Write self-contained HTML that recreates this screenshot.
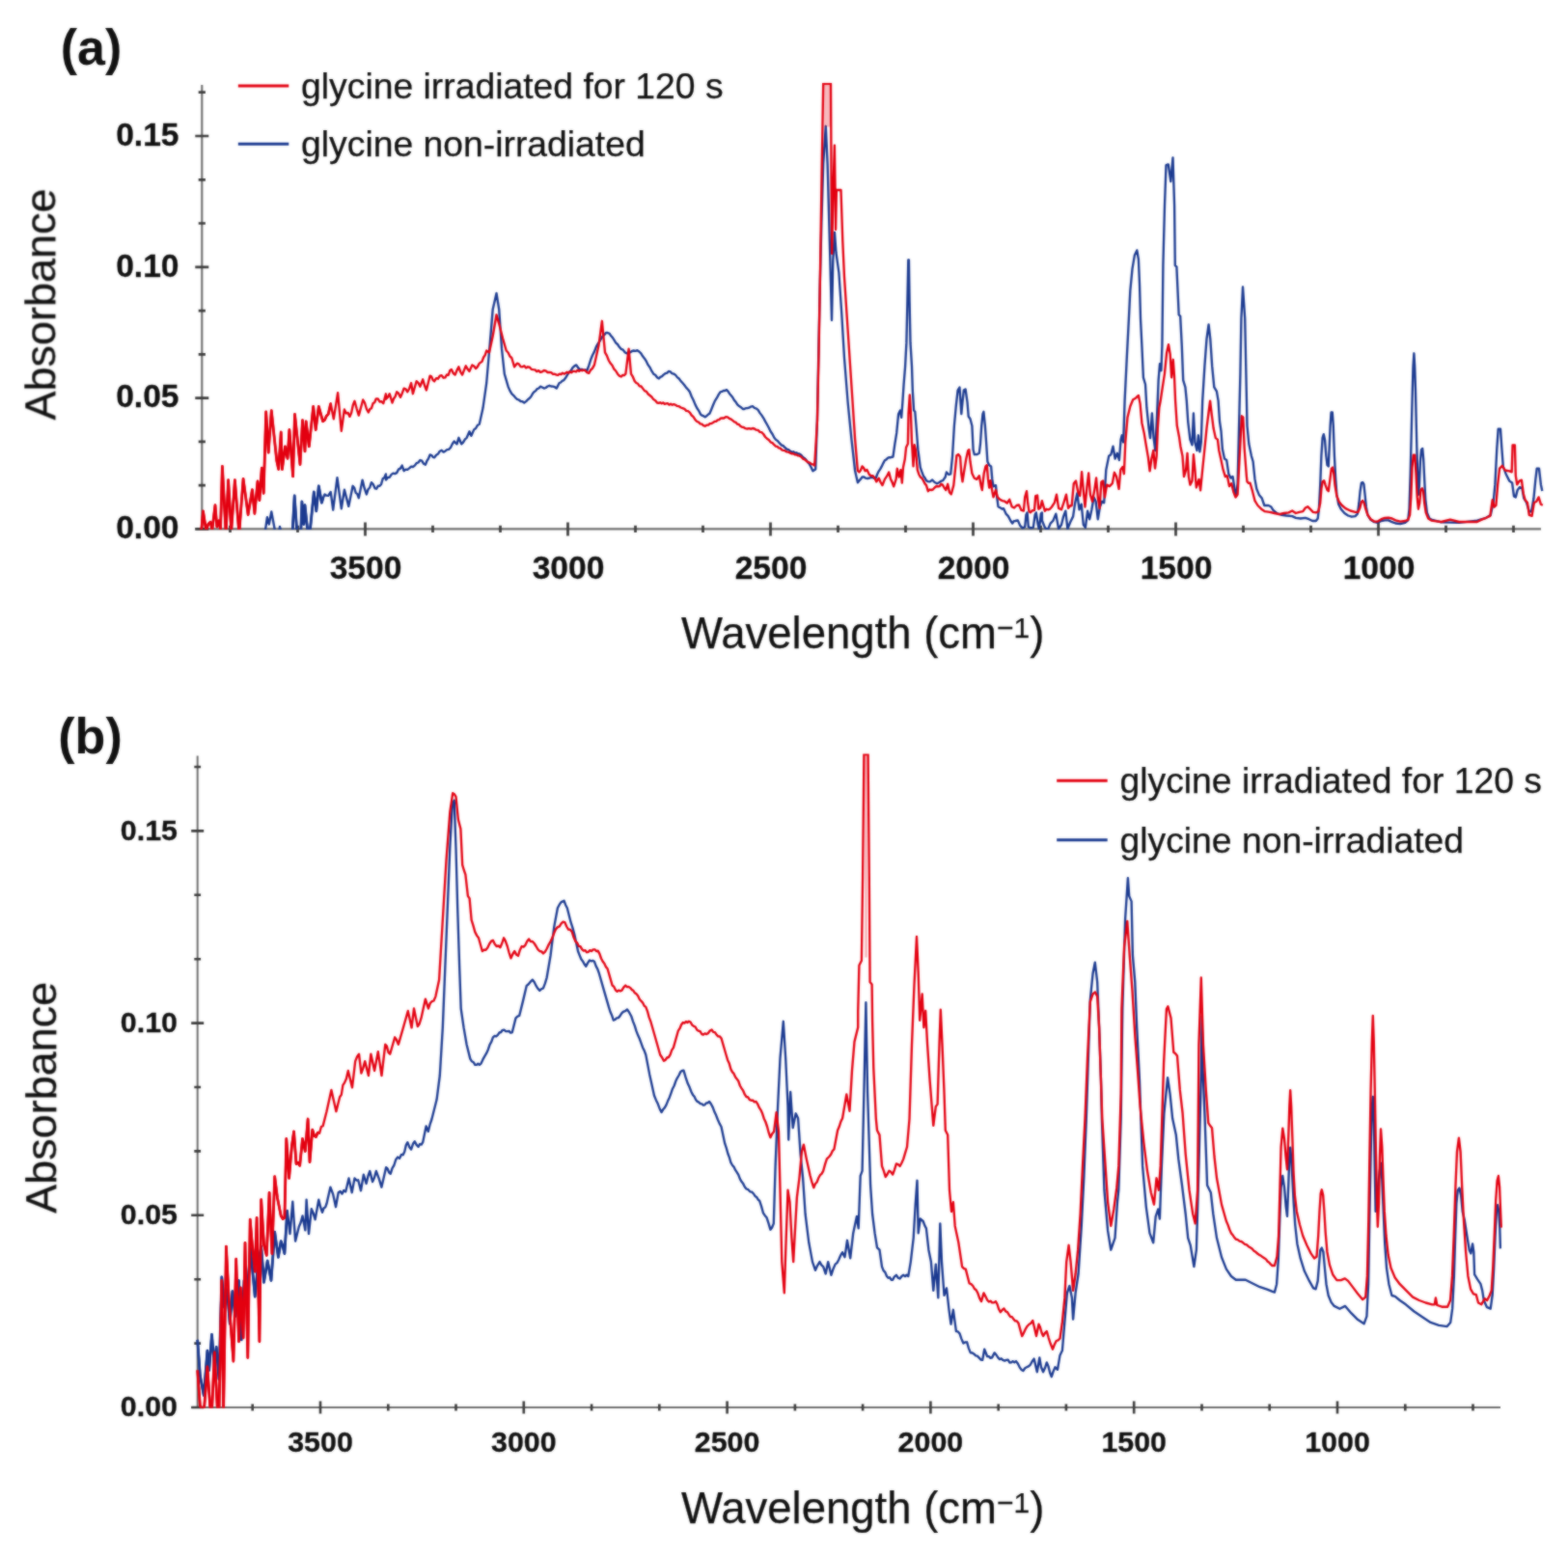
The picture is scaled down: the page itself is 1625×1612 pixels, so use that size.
<!DOCTYPE html>
<html lang="en">
<head>
<meta charset="utf-8">
<title>FTIR absorbance spectra of glycine</title>
<style>
html,body{margin:0;padding:0;background:#fff;}
body{width:1625px;height:1612px;overflow:hidden;}
svg{display:block;font-family:"Liberation Sans",sans-serif;}
</style>
</head>
<body>
<svg width="1625" height="1612" viewBox="0 0 1625 1612">
<defs><filter id="soft" x="0" y="0" width="1625" height="1612" filterUnits="userSpaceOnUse" color-interpolation-filters="sRGB"><feGaussianBlur in="SourceGraphic" stdDeviation="0.85" result="b"/><feComposite in="b" in2="SourceGraphic" operator="arithmetic" k1="0" k2="0.6" k3="0.40" k4="0"/></filter></defs>
<rect width="1625" height="1612" fill="#fff"/>
<g filter="url(#soft)">
<g id="panel-a">
<g stroke="#6e6e6e" stroke-width="2.1" fill="none" shape-rendering="auto">
<path d="M209.3 88V548.4"/>
<path d="M202.3 548.4H1597"/>
</g>
<path d="M202.3 548.4H216.3M205.7 503.1H212.9M205.7 457.9H212.9M202.3 412.6H216.3M205.7 367.3H212.9M205.7 322.1H212.9M202.3 276.8H216.3M205.7 231.5H212.9M205.7 186.3H212.9M202.3 141H216.3M205.7 95.7H212.9M238.5 544.8V552M308.5 544.8V552M378.5 541.4V555.4M448.5 544.8V552M518.5 544.8V552M588.5 541.4V555.4M658.5 544.8V552M728.5 544.8V552M798.5 541.4V555.4M868.5 544.8V552M938.5 544.8V552M1008.5 541.4V555.4M1078.5 544.8V552M1148.5 544.8V552M1218.5 541.4V555.4M1288.5 544.8V552M1358.5 544.8V552M1428.5 541.4V555.4M1498.5 544.8V552M1568.5 544.8V552" stroke="#3a3a3a" stroke-width="2.7" fill="none"/>
<g font-weight="bold" font-size="33.6" fill="#101010" stroke="#101010" stroke-width="0.3">
<text x="185.5" y="558.1" text-anchor="end">0.00</text>
<text x="185.5" y="422.3" text-anchor="end">0.05</text>
<text x="185.5" y="286.5" text-anchor="end">0.10</text>
<text x="185.5" y="150.7" text-anchor="end">0.15</text>
<text x="379" y="599.6" text-anchor="middle">3500</text>
<text x="589" y="599.6" text-anchor="middle">3000</text>
<text x="799" y="599.6" text-anchor="middle">2500</text>
<text x="1009" y="599.6" text-anchor="middle">2000</text>
<text x="1219" y="599.6" text-anchor="middle">1500</text>
<text x="1429" y="599.6" text-anchor="middle">1000</text>
</g>
<text x="894.2" y="672" font-size="45.5" text-anchor="middle" fill="#101010" stroke="#101010" stroke-width="0.25">Wavelength (cm<tspan font-size="30" dy="-11">−1</tspan><tspan dy="11">)</tspan></text>
<text transform="translate(57.3 315.5) rotate(-90)" font-size="45.0" text-anchor="middle" fill="#101010" stroke="#101010" stroke-width="0.25">Absorbance</text>
<text x="62.8" y="67" font-size="52" font-weight="bold" fill="#111">(a)</text>
<path d="M246.8 88.9h52.5" stroke="#e30010" stroke-width="3" fill="none"/>
<path d="M246.8 149.2h52.5" stroke="#1b3a90" stroke-width="3" fill="none"/>
<g font-size="37.3" fill="#101010" stroke="#101010" stroke-width="0.25">
<text x="312.1" y="101.9">glycine irradiated for 120 s</text>
<text x="312.1" y="162.2">glycine non-irradiated</text>
</g>
<clipPath id="clipa"><rect x="207.3" y="86" width="1395.7" height="463.0"/></clipPath>
<g clip-path="url(#clipa)" fill="none" stroke-width="2.35" stroke-linejoin="round" stroke-linecap="butt">
<path stroke="#1b3a90" stroke-width="2.75" d="M301.4 552.3L303 553.5L305.2 513.8L307.9 553.5L309.8 554.7L311.7 553.5L312.9 520L314.8 543.5L316 523.7L319.1 553.5L321 553.5L325.3 510L327.8 529.9L330.3 503.8L333.4 521.2L334.9 516.2"/>
<path stroke="#1b3a90" d="M274.4 553.5L276.9 536.1L278.8 543.5L281.3 530.5L285.6 553.5L287.2 552.2L288.7 553.5L290 546L291.8 553.5L293.4 554.4L295 552.2L296.6 554.4L298.2 552.8L299.8 554.6L301.4 552.3L303 553.5L305.2 513.8L307.9 553.5L309.8 554.7L311.7 553.5L312.9 520L314.8 543.5L316 523.7L319.1 553.5L321 553.5L325.3 510L327.8 529.9L330.3 503.8L333.4 521.2L334.9 516.2L336.5 512.5L338.3 513.7L340.2 513.8L342.7 510L345.2 528.7L349.5 495.2L353.8 527.4L356.9 507.6L361.3 524.9L365.6 503.8L367.2 505.7L368.7 510.9L370.3 512.1L371.8 516.3L375.6 497.6L377.7 506.2L379.9 512.5L381.6 507.2L383.2 505.5L384.9 500.1L386.7 502L388.6 506.3L390.2 506.7L391.9 503.6L393.5 503.8L395.1 501.9L396.7 496.3L398.3 495.1L399.9 491.4L400 497.5L401.9 495L403.7 494.8L405.6 491.9L407.4 490.6L409.3 491.1L411.2 490.1L413 486.6L414.9 485.6L416.7 482.6L418.6 488.2L420.5 486.6L422.3 486.9L424.2 485.4L426.1 483.6L427.9 484L429.8 482.6L431.6 480.2L433.5 479.5L435.4 477L437.2 477.7L439.1 480.8L440.9 481.7L442.5 477.7L444 475.5L445.6 471.5L447.1 471.8L448.7 473.9L450.2 474.3L452.1 471.7L454 470.6L455.8 467.7L457.7 466.8L459.6 468.6L461.4 467.7L463.3 466.1L465.1 465.9L467 464L468.9 460L470.7 457.5L473.5 460.3L475.4 453.8L478.2 460.3L480 458.6L481.9 455.3L483.7 453.8L486.5 447.3L488.4 451.9L491.2 445.4L493.1 444L494.9 440.8L496.8 439.8L500.5 423.1L504.2 397L507.9 354.2L510.7 320.7L514.5 304L517.2 320.7L520 361.7L522.8 387.7L526.6 400.7L528.4 404.9L530.3 408.2L532.1 409.8L534 412.1L535.9 413.8L537.7 414.5L539.6 416L541.4 416.2L543.3 417.5L545.2 416.1L547 414.2L548.9 412.8L550.4 411L552 408.1L553.5 406.3L555.2 405.1L556.8 403.1L558.4 402.5L560 400.7L561.9 401.5L563.8 402.6L565.6 402L567.5 400.5L569.4 399.8L571.2 400.5L573.1 400.7L574.9 401.2L576.8 402.6L579.6 397L581.1 396.5L582.7 394.8L584.2 394.2L586.1 391.8L588 388.6L589.8 385.8L591.7 384.1L593.5 381.2L595.4 379.4L597.3 378.4L599.1 381.1L601 383.1L602.9 382.8L604.7 383.8L606.6 383.5L608.4 384L610.3 378.9L612.2 372.8L614 368.2L615.9 364.6L617.7 359.8L619.6 356.4L621.5 353.8L623.3 350.5L624.9 348.2L626.4 347.1L628 344.9L629.8 345L631.7 345.8L633.3 348.3L634.8 349.9L636.4 352.4L638.2 355.3L640.1 357L641.9 359.8L643.8 361.9L645.7 362.6L647.5 365.2L649.4 366.3L651.2 365.2L653.1 365.3L655 364L656.8 363.5L658.7 363.8L660.5 363.2L662.4 364.5L664.3 366.3L666.1 369.3L668 371.7L669.9 374.7L671.7 378.4L673.6 381L675.4 384.7L677.3 387.7L679.2 388.8L681 391.2L682.9 392.4L684.4 390.8L686 390.2L687.5 388.6L689.4 387.2L691.3 386.7L693.1 384.9L694.8 385.4L696.5 387.2L698.1 387.5L699.8 388.6L700 388.6L701.9 391.1L703.7 392.5L705.6 395.1L707.4 397L709.3 399.2L711.2 401.9L713 403.8L714.9 406.3L716.7 411L718.6 414.8L720.5 419.4L722.3 423L724.2 425.8L726.1 429.6L727.6 430.7L729.2 431.3L730.7 432.4L732.3 431.3L733.8 429.7L735.4 428.7L737.2 424.5L739.1 419.8L740.9 415.6L742.8 412.7L744.7 409.1L746.5 406.3L748.2 405.9L749.8 405L751.4 405L753 404.1L754.6 405.8L756.1 408.2L757.7 410L759.3 412L760.9 414.9L762.6 416.8L764.2 419.4L766.1 421.1L767.9 422.2L769.8 424L771.3 424L772.9 423.2L774.4 423.1L776.3 422.7L778.2 421.6L780 421.2L781.9 422.8L783.7 423.5L785.6 424.9L787.5 428.1L789.3 430.4L791.2 433.3L793.1 436.9L794.9 440L796.8 443.5L798.6 447.3L800.5 450L802.4 453.8L804.2 455.9L806.1 457.3L807.9 459.4L809.8 461.3L811.7 462.1L813.5 464L815.4 465.6L817.2 466.2L819.1 467.7L820.7 468.6L822.2 468.3L823.8 469.5L825.3 469.3L826.9 470.3L828.4 470.5L830.3 471.7L832.1 473.9L834 475.2L835.5 476.8L837.1 479.1L838.6 480.8L840.5 484.3L842.4 488.2L845.2 486.4L846.9 436L848.4 362L849.9 290L851.4 230L853.2 170L855.8 130.8L857.6 170L859.8 250L862 332L863.3 270L865 241L866.5 262L869.4 282.6L872.2 324L875 371L878.7 417.5L882.4 455L886.1 488L888.9 500.3L890.5 498.2L892 496.6L893.5 494.5L895.4 494.5L897.2 495.7L899.1 496L900.9 495.7L902.8 494.8L904.6 495.1L906.2 496L907.7 495.7L909.2 491.5L910.8 488.3L912.3 486.1L913.8 483.4L915.4 480.1L916.9 477.2L918.5 476.4L920 474.8L921.5 474.2L923.1 474.2L925.5 473.5L927.4 460L929.2 448.9L931.1 429.2L932.9 425.5L934.2 432.9L935.4 416.9L936.6 398.5L938.1 380L939.4 355.4L940.4 312.3L941.3 269.5L941.9 269.5L942.6 312.3L943.5 355.4L945 380L945.8 404.6L947.1 425.5L948.3 426.8L949.5 441.5L951.4 466.2L953.8 484.6L955.4 489.2L956.9 493.2L958.5 495.4L960 498.2L961.8 499.1L963.7 499.4L966.2 497.5L968.6 500L971.1 501.2L973.5 500L975.4 498.6L977.2 498.2L979.7 494.5L980.9 489.5L983.4 492L985.2 491.4L987.1 472.3L988.9 441.5L990.8 420.6L992.6 404.6L994.5 401.5L996.3 429.2L997.5 416.9L998.8 404.6L1000.6 403.4L1002.5 416.9L1003.7 431.7L1005.5 434.2L1007.4 441.5L1008.6 466.2L1009.8 471.1L1012.3 471.1L1014.8 469.8L1016 460L1017.2 441.5L1018.5 429.2L1019.4 426.8L1020.9 441.5L1022.2 460L1023.4 478.5L1025.2 482.2L1027.1 483.4L1028.3 496.9L1029.5 504.3L1032 503.1L1033.2 515.4L1034.5 525.2L1036.9 526.5L1038.5 527.5L1040 527.1L1042.5 532.6L1044.9 535.1L1047.4 540L1049.2 542.5L1050.8 540.1L1052.3 540L1054.8 539.4L1057.2 544.9L1059.7 547.4L1062.2 546.2L1063.4 533.8L1064.6 531.4L1065.8 546.2L1068.3 547.4L1070.8 546.8L1072.6 533.8L1073.8 531.4L1075.7 543.7L1076.9 548.6L1078.8 532.6L1079.9 531.4L1080 539.7L1082.9 546.9L1085.7 549.7L1088.6 542.6L1091.4 539.7L1094.3 532.6L1097.1 548.3L1100 544L1102.1 535.4L1104.3 529.7L1106.4 548.3L1109.2 541.2L1112.1 535.4L1114.2 521.2L1116.4 511.2L1118.5 528.3L1120.7 522.6L1122.8 544L1124.9 546.9L1127.1 529.7L1129.2 538.3L1131.4 528.3L1133.5 515.5L1135.6 519.8L1137.8 538.3L1139.9 525.5L1142.1 519.8L1144.2 521.2L1146.3 486.9L1149.2 472.7L1151.3 471.2L1153.5 462.7L1155.6 475.5L1157.8 469.8L1159.9 477L1161.6 455.6L1162.7 451.3L1164.2 458.4L1165.6 415.6L1167.7 372.8L1169.9 330L1171.3 301.5L1173.5 278.6L1175.9 264.4L1178.3 259.4L1179.9 268.7L1181 294.3L1182 330L1183.4 358.5L1184.9 391.3L1187 398.5L1188.4 422.7L1190.6 444.1L1192 454.1L1193.9 428.4L1195.6 454.1L1197.3 467L1199.1 429.9L1200.6 394.2L1202 377.1L1203.4 384.2L1204.4 358.5L1205.4 275.1L1207 213L1208.5 171.2L1210.8 170.4L1213.3 188.2L1215.5 163.4L1217.1 213L1217.8 275.1L1219.4 276.6L1221.7 326.3L1223.2 327.9L1224.8 358.5L1226.2 394.2L1228.4 401.3L1229.8 415.6L1231.2 437L1233.4 455.6L1235.5 461.3L1236.9 428.4L1238.4 458.4L1240.5 467L1241.9 451.3L1243.4 468.4L1244.8 458.4L1246.2 415.6L1248.4 379.9L1250.5 351.4L1252.6 336.4L1254.3 351.4L1256.2 379.9L1258.3 401.3L1260.9 405.6L1262.6 415.6L1264 437L1265.5 447L1266.9 465.5L1269 475.5L1271.2 477L1273.3 491.2L1275.5 495.5L1277.6 494.1L1279.7 508.3L1281.2 514L1282.6 501.2L1284 444.1L1285.4 387.1L1286.4 330L1288 297.5L1290.2 330L1292.5 441.5L1294.3 460L1296.8 472.3L1298.6 478.5L1300.5 496.9L1302.3 506.8L1304.8 512.9L1307.8 516.6L1310.3 524L1314.6 524L1317.1 525.2L1319.5 528.9L1323.2 532L1328.2 533.8L1333.1 534.5L1339.2 535.1L1342.9 536.9L1347.8 537.5L1352.8 536.9L1356.5 538.2L1360.2 540L1363.8 540L1365.7 537.5L1366.9 527.7L1368.2 503.1L1369.4 472.3L1370.6 453.8L1371.8 450.2L1373.1 456.3L1374.3 472.3L1375.5 482.2L1376.8 483.4L1377.6 466.2L1378.6 441.5L1379.6 427.4L1380.8 427.4L1381.8 441.5L1382.9 472.3L1384.2 496.9L1385.4 512.9L1387.2 522.8L1389.7 527.7L1393.4 532L1397.1 534.5L1400.8 535.7L1404.5 535.1L1406.9 532.6L1408.4 521.5L1409.6 509.2L1410.9 500.6L1412.2 500L1413.4 501.8L1414.6 512.9L1415.8 525.2L1417.4 533.8L1420.5 538.8L1424.2 541.2L1427.8 541.8L1431.5 540L1435.2 539.4L1438.9 539.4L1442.6 541.2L1446.3 542.5L1451.2 543.1L1456.2 541.8L1459.2 539.4L1460.5 527.7L1461.7 490.8L1462.9 441.5L1463.8 404.6L1464.5 380L1465.4 366.3L1466.2 380L1467 404.6L1467.8 441.5L1468.7 478.5L1469.9 512.9L1470.9 503.1L1471.9 478.5L1473 466.2L1474.2 464.9L1475.2 476L1476.2 496.9L1477.3 517.8L1478.9 531.4L1481.4 537.5L1483.4 538.6L1493.6 541.4L1512.2 541.9L1530.8 539.6L1540.1 536.8L1544.8 534L1547.6 521L1549.4 502.4L1551.3 465.1L1552.7 444.7L1555 444.7L1556.4 465.1L1557.8 483.7L1560.6 491.2L1564.3 498.6L1567.1 500.5L1569 514.5L1570.8 515.4L1572.7 507.9L1575 505.1L1577.4 506.1L1579.2 516.3L1582 521L1584.8 530.3L1587.1 530.3L1589.5 516.3L1591.3 497.7L1592.7 485.6L1595 485.6L1596.9 502.4L1598.3 508.9"/>
<path stroke="#e30010" stroke-width="2.75" d="M208.7 550L210.5 529.9L213.6 550L215.8 543.4L218 541.1L219.9 549.1L223 523.7L224.8 546L226.7 539.8L228.5 549.1L230.4 483.4L234.1 553.5L236.6 497.6L239.7 551L243.4 497.6L247.8 553.5L252.1 496.4L257.1 533.6L261.4 507.6L263.9 532.4L267 498.9L268.9 518.7L271.3 485.2L273.2 511.3L275.7 426.9L278.2 469.1L281.3 425.7L286.8 477.8L288.7 486.5L291.2 448L292.4 486.5L295.5 462.9L298 475.3L299.9 445.5L303.6 493.9L305.5 429.4L311 481.5L313.5 435.6L316 467.9L317.2 436.8L320.3 462.9L324.7 421.3L327.2 445.5L330.3 421.3L334.6 436.8L336.5 435.4L338.3 431.3L340.2 429.4L342.7 418.2"/>
<path stroke="#e30010" d="M208.7 550L210.5 529.9L213.6 550L215.8 543.4L218 541.1L219.9 549.1L223 523.7L224.8 546L226.7 539.8L228.5 549.1L230.4 483.4L234.1 553.5L236.6 497.6L239.7 551L243.4 497.6L247.8 553.5L252.1 496.4L257.1 533.6L261.4 507.6L263.9 532.4L267 498.9L268.9 518.7L271.3 485.2L273.2 511.3L275.7 426.9L278.2 469.1L281.3 425.7L286.8 477.8L288.7 486.5L291.2 448L292.4 486.5L295.5 462.9L298 475.3L299.9 445.5L303.6 493.9L305.5 429.4L311 481.5L313.5 435.6L316 467.9L317.2 436.8L320.3 462.9L324.7 421.3L327.2 445.5L330.3 421.3L334.6 436.8L336.5 435.4L338.3 431.3L340.2 429.4L342.7 418.2L345.8 434.4L350.1 407.1L353.8 446.8L356.9 424.4L358.8 428.4L360.7 427.9L362.5 431.9L364.2 427.7L365.8 419.9L367.5 415.8L369.7 423.8L371.8 430.6L376.2 414.5L378 417.5L379.9 424L381.8 427.5L383.4 424.1L385 423.2L386.6 418.1L388.2 417.3L389.8 413.3L391.7 413.3L393.5 416.5L395.4 416.2L397.3 418.2L399.9 408.3L400 413.8L401.9 411.7L403.7 408.2L406.5 417.5L408.1 413.2L409.6 411.1L411.2 406.3L413 407.6L414.9 411.9L416.7 407.9L418.6 402.6L420.5 403.3L422.3 406.3L424.2 402.7L426.1 397L427.9 408.2L431.6 395.2L433.5 396.8L435.4 400.7L438.2 393.3L440 399.5L441.9 404.5L445.6 389.6L447.1 390.3L448.7 394.1L450.2 395.2L452.1 392.2L454 392.7L455.8 389.6L457.7 389.1L459.6 391.7L461.4 391.4L463 388.5L464.7 388.8L466.3 384.1L467.9 383.1L469.8 387L471.7 388.6L473.5 383.9L475.4 380.3L477.2 385.5L479.1 388.6L481 383.6L482.8 379.3L484.7 382.7L486.5 384.9L489.3 378.4L491.2 379.5L493.1 382.1L494.9 380.1L496.8 376.6L499.6 374.7L501.1 370.5L502.7 368.1L504.2 363.5L507 365.4L510.7 348.6L514.5 326.3L517.2 335.6L521 350.5L524.7 363.5L526.6 365.5L528.4 369.3L530.3 371L533.1 380.3L535.9 376.6L537.7 377.3L539.6 380.2L541.4 380.3L543.3 379.3L545.2 381.4L547 380.3L548.9 380.7L550.7 382.8L552.6 383.1L554.5 383.3L556.3 385.1L558.2 384.1L560 385.9L561.9 385.3L563.8 384L565.6 384.3L567.5 386L569.4 385.9L571.2 386.2L573.1 387.9L574.9 387.7L576.8 388.6L578.3 388.8L579.9 387.6L581.5 388.1L583 386.7L584.6 387.6L586.1 386.8L587.7 385.8L589.2 386.7L590.8 385.2L592.3 386.2L593.9 384.8L595.4 384.9L597 385.4L598.5 383.8L600.1 384.7L601.6 383.7L603.2 384.2L604.7 383.6L606.6 384.2L608.4 386.1L610.3 386.8L612.2 383.5L614 381.9L615.9 378.4L620.5 357.9L623.9 332.8L627 365.4L628.9 368.6L630.8 373.5L632.6 376.6L634.5 378.8L636.4 382.7L638.2 384.5L640.1 387.7L641.9 389.7L643.8 390.5L645.3 388.9L646.9 389L648.4 387.7L651.6 361.7L654 387.7L655.9 390.7L657.8 395.2L659.4 397L661.1 397.8L662.8 400.3L664.5 400.5L666.1 402.6L668 405.1L669.9 405.8L671.7 408.5L673.6 410L675.4 411.5L677.3 414.1L679.2 415.2L681 417.5L682.6 417.9L684.1 417.3L685.7 418.3L687.2 417.4L688.8 418.9L690.3 418.4L691.9 418.2L693.5 419.6L695.1 418.8L696.7 419.7L698.2 419.2L699.8 419.7L700 419.7L701.9 420.9L703.7 421.2L705.6 422.5L707.4 423.1L709.3 423.8L711.2 425.9L713 426.2L714.9 427.7L716.7 430.5L718.6 432.1L720.5 435.2L722.3 437L724 437.6L725.7 439.3L727.4 439.6L729 441.1L730.7 441.7L732.4 440.7L734.1 440.6L735.7 439.1L737.4 439L739.1 438L740.6 436.8L742.2 436.8L743.7 435.4L745.3 435.1L746.8 433.7L748.4 433.3L750.2 433.5L752.1 432.2L754 432.4L755.8 433.8L757.7 434.6L759.6 436.1L761.1 437.4L762.7 437.9L764.2 439.7L765.8 440L767.3 441.8L768.9 442.6L770.7 443L772.6 444.2L774.4 444.5L776.3 444.1L778.2 444.7L780 444L781.9 444.5L783.7 445.7L785.6 445.9L787.5 447.8L789.3 448.2L791.2 450L793.1 453L794.9 454.7L796.8 456L798.6 458.4L800.5 459.1L802.4 461.2L803.9 462.6L805.5 462.9L807 464.3L808.6 464.6L810.1 466.3L811.7 466.8L813.5 467.2L815.4 468.4L817.2 468.6L819.1 469.6L820.7 470.3L822.2 470.1L823.8 471.4L825.3 471.3L826.9 472.4L828.4 472.4L830.3 473.5L832.1 475.6L834 476.4L835.9 478L837.5 479.2L839.2 479.6L840.9 481.1L842.6 481.4L844.2 482.6L847 436L848.6 362L850.2 270L851.6 180L853.2 86.7L861 86.7L861.6 194L862.2 263L863.4 200L864.9 150.6L865.6 200L866.1 238L866.9 197L871.5 197L873.3 250L875 287L878.7 343L882.4 399L886.1 455L888.9 488L890.5 489.5L892 487.4L893.5 483.4L895.1 485.1L896.6 488.3L898.5 487.1L900.9 492L902.8 493.3L904.6 493.2L906.5 495.5L908.3 499.4L910.8 495.7L912.6 500L914.5 503.1L916.9 496.9L919.4 493.2L921.2 489.5L923.1 496.9L924.6 499.9L926.2 504.3L928.6 496.9L929.8 485.8L931.7 494.5L933.5 487.1L934.8 500.6L936 484.6L937.8 476L939.1 463.7L940.9 460L941.5 429.2L942.8 409.5L944 429.2L945 458.8L946.5 483.4L947.7 461.2L948.9 466.2L950.8 487.1L952.3 491.7L953.8 494.5L955.4 495.7L956.9 498.2L958.5 501.4L960 503.1L961.8 509.2L963.4 507.5L964.9 508L966.8 507.5L968.6 505.5L970.5 504L972.3 504.3L973.8 504L975.4 501.8L976.9 502.6L978.5 505.5L980.3 508L982.2 501.8L984 510.5L985.8 512.3L988.3 503.1L990.2 484.6L991.4 472.3L993.2 471.1L995.1 473.5L996.3 490.8L997.5 499.4L998.8 490.8L1001.2 476L1003.1 467.4L1004.3 466.2L1005.5 478.5L1007.4 490.8L1009.8 495.7L1012.3 496.9L1014.8 493.2L1016.6 503.1L1017.8 508L1019.7 490.8L1021.5 483.4L1022.8 482.2L1024 496.9L1025.2 505.5L1026.5 498.2L1028.3 509.2L1029.5 515.4L1032 508L1033.8 515.4L1036.3 517.8L1038.8 519.1L1041.2 519.7L1043.7 521.5L1046.2 517.8L1048.6 525.2L1051.1 526.5L1053.5 524L1056 523.4L1058.5 528.9L1060.9 529.5L1062.2 515.4L1064 509.2L1065.2 521.5L1066.5 530.2L1068 531.2L1069.5 529.5L1072 528.9L1073.2 514.2L1075.1 513.5L1076.3 527.7L1078.2 526.5L1079.9 519.1L1080 519.8L1082.9 529.7L1084.6 527.8L1086.4 528.3L1088.2 527.6L1090 525.5L1092.8 521.2L1095 512.6L1097.1 526.9L1100 528.3L1102.8 519.8L1105 512.6L1107.1 526.9L1108.9 524.5L1110.7 524L1112.8 501.2L1115 498.4L1117.1 509.8L1119.2 514L1121.1 489.1L1122.8 508.3L1124.5 525.5L1126.4 505.5L1128.2 490.5L1129.9 512.6L1132.1 519.8L1134.2 508.3L1136.1 495.5L1137.8 515.5L1139.6 526.9L1141.3 499.8L1143.1 498.4L1144.9 515.5L1147.1 502.6L1149.9 504.1L1152.8 501.2L1154.9 489.8L1157 494.1L1159.6 506.9L1161.3 486.9L1163.5 484.1L1164.9 491.2L1166.3 458.4L1168.5 432.7L1171.3 421.3L1174.2 414.2L1177 412.7L1179.9 409.9L1181.6 418.5L1183.4 438.4L1185.6 448.4L1187.7 461.3L1189.9 474.1L1191.6 488.4L1193.4 475.5L1195.3 467L1197 485.5L1198.7 472.7L1199.8 444.1L1201.3 422.7L1202.7 415.6L1204.8 401.3L1207 387.1L1209.1 365.7L1211 357.1L1212.7 367.1L1214.1 391.3L1215.8 372.8L1217 389.9L1218.1 415.6L1219.8 441.3L1222 452.7L1223.4 462.7L1225.5 472.7L1227 494.1L1229.1 486.9L1230.5 469.8L1231.9 494.1L1233.4 502.6L1235.5 498.4L1236.9 471.2L1238.4 486.9L1239.8 505.5L1242.6 496.9L1244.1 508.3L1246.2 486.9L1248.4 465.5L1250.5 444.1L1252.6 427L1254.1 415.6L1255.8 429.9L1257.6 444.1L1259.8 454.1L1261.9 455.6L1263.3 467L1265.5 477L1267.6 486.9L1269.8 494.1L1271.9 493.4L1274 504.1L1276.2 501.2L1278.3 509.8L1280.5 515.5L1282.6 512.6L1284.7 472.7L1286.9 431.3L1288.3 432.7L1289.7 465.5L1291.9 494.1L1292.5 499.4L1294 500.8L1295.5 500.6L1298 509.2L1300.5 519.1L1303.5 524L1307.2 527.7L1310.9 530.2L1315.8 530.8L1320.8 532L1325.7 533.2L1330.6 532L1335.5 531.4L1339.2 529.5L1342.9 532L1346.6 530.8L1350.3 530.2L1352.8 526.5L1355.2 525.2L1357.7 527.7L1360.8 530.8L1363.8 531.4L1366.3 530.2L1368.2 521.5L1369.4 506.8L1370.6 499.4L1372.2 498.2L1373.7 503.1L1375.5 508L1376.8 509.2L1378.4 496.9L1379.8 485.8L1381.1 484.6L1382.3 490.8L1383.5 503.1L1385.4 514.2L1387.8 520.3L1390.9 524L1394.6 527.1L1399.5 529.5L1404.5 530.8L1407.5 530.8L1409.4 526.5L1410.9 520.3L1412.2 519.1L1413.7 521.5L1415.3 527.7L1417.4 533.8L1420.5 538.2L1424.2 540.6L1427.8 540.6L1431.5 538.2L1435.2 536.9L1438.9 536.6L1442.6 537.5L1446.3 539.4L1451.2 540.6L1456.2 540L1459.2 538.8L1461.1 533.8L1462.3 515.4L1463.5 484.6L1464.8 471.7L1466.2 471.7L1467.5 490.8L1468.7 515.4L1469.9 527.7L1471.2 521.5L1472.4 508L1473.8 506.2L1475 509.2L1476.2 521.5L1477.7 531.4L1480.2 537.5L1483.4 539.6L1493.6 541L1502.9 538.6L1512.2 541L1530.8 541L1535.5 538.6L1540.1 536.8L1544.3 534.9L1546.7 518.2L1548.5 525.6L1550.4 523.8L1552.2 502.4L1554.1 485.6L1556.9 482.8L1559.7 487.5L1564.3 488.4L1566.7 489.3L1567.6 461.4L1569.9 461.4L1570.8 493.1L1572.2 502.4L1574.6 498.6L1576.9 497.7L1578.8 511.7L1580.6 518.2L1582.9 521L1584.8 534L1587.6 534.9L1589.9 521L1592.2 520L1594.6 515.4L1596.9 522.8L1598.8 523.8"/>
<rect x="854.2" y="87.5" width="6.0" height="44" fill="#e30010" fill-opacity="0.28" stroke="none"/>
</g>
</g>
<g id="panel-b">
<g stroke="#6e6e6e" stroke-width="2.0" fill="none" shape-rendering="auto">
<path d="M204.7 783.5V1459"/>
<path d="M198.2 1459H1555"/>
</g>
<path d="M198.2 1459H211.2M201.3 1392.6H208.1M201.3 1326.2H208.1M198.2 1259.8H211.2M201.3 1193.4H208.1M201.3 1127H208.1M198.2 1060.6H211.2M201.3 994.2H208.1M201.3 927.8H208.1M198.2 861.4H211.2M201.3 795H208.1M261.7 1455.6V1462.4M332 1452.5V1465.5M402.3 1455.6V1462.4M472.5 1455.6V1462.4M542.8 1452.5V1465.5M613.1 1455.6V1462.4M683.3 1455.6V1462.4M753.6 1452.5V1465.5M823.9 1455.6V1462.4M894.1 1455.6V1462.4M964.4 1452.5V1465.5M1034.7 1455.6V1462.4M1104.9 1455.6V1462.4M1175.2 1452.5V1465.5M1245.5 1455.6V1462.4M1315.7 1455.6V1462.4M1386 1452.5V1465.5M1456.3 1455.6V1462.4M1526.5 1455.6V1462.4" stroke="#3a3a3a" stroke-width="2.6" fill="none"/>
<g font-weight="bold" font-size="30.4" fill="#101010" stroke="#101010" stroke-width="0.3">
<text x="184" y="1468.4" text-anchor="end">0.00</text>
<text x="184" y="1269.2" text-anchor="end">0.05</text>
<text x="184" y="1070" text-anchor="end">0.10</text>
<text x="184" y="870.8" text-anchor="end">0.15</text>
<text x="332" y="1505" text-anchor="middle">3500</text>
<text x="542.8" y="1505" text-anchor="middle">3000</text>
<text x="753.6" y="1505" text-anchor="middle">2500</text>
<text x="964.4" y="1505" text-anchor="middle">2000</text>
<text x="1175.2" y="1505" text-anchor="middle">1500</text>
<text x="1386" y="1505" text-anchor="middle">1000</text>
</g>
<text x="894.2" y="1578.5" font-size="45.5" text-anchor="middle" fill="#101010" stroke="#101010" stroke-width="0.25">Wavelength (cm<tspan font-size="30" dy="-11">−1</tspan><tspan dy="11">)</tspan></text>
<text transform="translate(58.2 1137.8) rotate(-90)" font-size="45.0" text-anchor="middle" fill="#101010" stroke="#101010" stroke-width="0.25">Absorbance</text>
<text x="60.3" y="781" font-size="52" font-weight="bold" fill="#111">(b)</text>
<path d="M1095.2 809.2h52.5" stroke="#e30010" stroke-width="3" fill="none"/>
<path d="M1095.2 870.7h52.5" stroke="#1b3a90" stroke-width="3" fill="none"/>
<g font-size="37.3" fill="#101010" stroke="#101010" stroke-width="0.25">
<text x="1160.5" y="822.2">glycine irradiated for 120 s</text>
<text x="1160.5" y="883.7">glycine non-irradiated</text>
</g>
<clipPath id="clipb"><rect x="202.7" y="781.5" width="1358.3" height="678.1"/></clipPath>
<g clip-path="url(#clipb)" fill="none" stroke-width="2.35" stroke-linejoin="round" stroke-linecap="butt">
<path stroke="#1b3a90" stroke-width="2.75" d="M204.7 1388.9L207.4 1426.1L211.2 1446.6L214.9 1400.1L216.7 1420.5L219.5 1383.3L222.3 1416.8L224.2 1396.4L227 1429.9L229.8 1323.8L232.6 1355.4L235.4 1336.8L238.2 1372.2L240.9 1338.7L243.7 1364.7L247.5 1327.5L250.2 1388.9L253 1327.5L255.8 1346.1L259.6 1294L264.2 1344.2L267 1314.5L270.7 1292.1L273.5 1329.4L277.2 1307L281 1327.5L284.7 1277.2L288.4 1303.3L291.2 1286.6L293.1 1291.9L294.9 1299.6L297.7 1254.9"/>
<path stroke="#1b3a90" d="M204.7 1388.9L207.4 1426.1L211.2 1446.6L214.9 1400.1L216.7 1420.5L219.5 1383.3L222.3 1416.8L224.2 1396.4L227 1429.9L229.8 1323.8L232.6 1355.4L235.4 1336.8L238.2 1372.2L240.9 1338.7L243.7 1364.7L247.5 1327.5L250.2 1388.9L253 1327.5L255.8 1346.1L259.6 1294L264.2 1344.2L267 1314.5L270.7 1292.1L273.5 1329.4L277.2 1307L281 1327.5L284.7 1277.2L288.4 1303.3L291.2 1286.6L293.1 1291.9L294.9 1299.6L297.7 1254.9L300.5 1279.1L303.3 1245.6L306.1 1286.6L309.8 1271.7L311.7 1267.2L313.5 1260.5L316.3 1275.4L317.6 1243.7L320 1279.1L322.8 1253.1L324.7 1257.7L326.6 1264.2L330.3 1243.7L332.1 1251.2L334 1256.8L335.5 1252.5L337.1 1251.6L338.6 1247.5L342.4 1230.7L345.2 1238.2L348 1251.2L350.7 1236.3L352.6 1235L354.5 1237.6L356.3 1234.1L358.2 1235.4L361.5 1221.4L364.7 1236.3L367.5 1221.4L369.4 1223.6L371.2 1223.3L374 1234.4L376.8 1217.7L379.6 1227L381.5 1219L383.3 1214L386.1 1225.1L388 1220.8L389.8 1214L392.6 1221.4L395.4 1230.7L400.1 1210.2L401.6 1211.4L403.2 1215.6L404.7 1216.8L406.6 1210.8L408.4 1208L410.3 1201.9L412.2 1199.6L414 1200.9L415.9 1196.9L417.7 1197.2L419.3 1193.8L420.8 1187L422.4 1184.2L424.3 1189.2L426.1 1191.6L428 1185.8L429.8 1183.3L431.7 1186.9L433.6 1188.8L435.1 1186L436.7 1186.5L438.2 1184.2L441.6 1167.4L443.8 1173L445.7 1165.3L447.5 1160L450.1 1149.7L452.6 1139.8L455.8 1115L458.8 1065.4L461.3 1003.3L463.8 941.3L466.3 879.3L468.7 834.6L470.7 829.6L472.5 879.3L474.2 941.3L476.2 1003.3L477.7 1045.5L480.6 1065.4L483.6 1082.7L487.3 1097.6L489 1100.3L490.7 1101.2L492.3 1103.8L493.9 1103.8L495.4 1102.6L497 1103.7L498.5 1102.6L500.4 1098.4L502.2 1095.1L504.1 1091.9L506 1087.7L507.6 1082.8L509.3 1079.9L510.9 1075.3L512.6 1073.9L514.2 1074.3L515.9 1072.8L517.5 1070.5L519.2 1070L520.8 1067.8L522.5 1067.7L524.2 1069.1L525.8 1069.1L527.5 1068.9L529.1 1070.6L530.8 1070.3L534.5 1055.4L536.4 1053.7L538.2 1053L541.9 1038.1L545.7 1021.9L547.5 1020.5L549.4 1018.2L551.9 1015.7L553.7 1018L555.6 1021.9L557.4 1024.8L559.3 1026.9L561.2 1025.2L563 1024.4L564.9 1019.4L566.7 1013.3L570.5 990.9L574.2 961.1L577.9 941.3L579.8 937.7L581.6 935.1L584.6 933.8L586.2 938.2L587.8 941.3L591.6 956.2L593.4 961.6L595.3 968.6L599 986L600.7 990.4L602.3 994.3L604 996.4L605.6 999.5L607.3 1001.7L609.2 998.1L611 995.5L612.7 996.3L614.3 995.9L616 996.8L617.6 1001.4L619.3 1004.6L620.9 1009.2L625.9 1026.6L630.9 1043.9L632.5 1049L634.2 1052.8L635.8 1057.6L637.5 1057L639.1 1055.4L640.8 1055.1L642.4 1053.4L644.1 1050.6L645.8 1048.9L647.9 1048.1L650 1046.4L652.2 1049.7L654.4 1053.8L656.1 1059.1L657.8 1063.4L659.4 1068.7L661.1 1073.1L662.7 1076.5L664.4 1081.1L666 1085.7L667.7 1089.1L669.3 1093.5L673.1 1113.4L678 1135.7L679.9 1140.4L681.7 1144.1L683.6 1149.2L685.5 1153.1L687.1 1150.3L688.8 1148.4L690.4 1145.7L692.1 1141.3L693.7 1137.9L695.4 1133.3L697 1128.7L698.7 1125.5L700.3 1120.8L702 1117.3L703.7 1114.5L705.3 1110.9L706.9 1110L708.5 1109.7L710.6 1116.9L712.8 1123.3L714.6 1127.1L716.5 1132L718 1134.9L719.6 1136.8L721.1 1140L722.7 1141.9L724.2 1142.6L725.8 1144.1L727.3 1144.4L728.9 1145.7L730.4 1145.3L732 1143.4L733.5 1143.3L735.1 1141.9L736.9 1144.5L738.8 1148.1L740.5 1152.8L742.1 1156.1L743.8 1160.5L745.6 1164.6L747.5 1168L751.2 1185.4L752.8 1190.1L754.3 1195.8L755.9 1199.9L757.4 1205.2L759 1208L760.5 1209.6L762.1 1212.9L763.6 1215.1L765.3 1217.9L766.9 1222.2L768.6 1225.1L770.2 1227.1L771.9 1230.5L773.5 1232.5L775.4 1233.2L777.3 1235.3L779.1 1235.6L781 1237.5L782.5 1239.9L784.1 1240.9L785.6 1243.5L787.2 1244.9L789.1 1250.6L790.9 1257.3L792.8 1260.2L794.6 1262.3L796.5 1268.2L798.4 1274.7L800.1 1272.5L801.8 1268.4L803.6 1208.9L806.1 1146.8L808.5 1097.2L811.8 1058.8L814.2 1097.2L816.5 1146.8L817.2 1181.6L819.2 1132L821.7 1169.2L824.7 1154.3L827.1 1159.3L829.6 1196.5L832.1 1221.3L834.6 1258.5L838.3 1288.3L842 1308.1L845 1316.8L847.2 1311.8L849.5 1308.1L851.3 1311.3L853.2 1313.1L855.7 1320.5L858.2 1308.1L861.4 1321.8L863.5 1315.5L865.6 1310.6L867.5 1309.1L869.3 1305.7L871.2 1301.3L873.1 1298.2L875.5 1303.2L878 1285.8L881.2 1304.4L884.2 1278.4L887.9 1261L889.7 1273.4L891.7 1218.8L893.6 1213.8L895.4 1132.2L897.4 1039.2L899.1 1132.2L902.1 1228.7L904.1 1258.5L906.6 1278.4L909 1293.3L911.5 1295.7L914 1313.1L915.6 1317.1L917.3 1318.9L919 1323L920.5 1324.7L922.1 1324.3L923.6 1326.7L925.2 1326.7L927 1323.3L928.9 1321.8L930.7 1324.6L932.6 1325.5L934.5 1323L936.3 1321.8L938 1323.2L939.6 1321.7L941.3 1323L943.8 1308.1L946.7 1283.3L948.7 1248.6L950.5 1223.8L951.7 1278.4L953.7 1263.5L956.7 1266L958.3 1270.4L959.9 1273.4L962.4 1295.7L964.9 1308.1L967.3 1337.9L969.8 1310.6L972.3 1345.4L974.3 1268.4L976 1308.1L978.5 1342.9L981 1335.4L983.5 1357.8L985.5 1372.7L987.9 1357.8L990.9 1380.1L992.8 1380.4L994.6 1382.6L996.5 1388.1L998.4 1392.5L1000.2 1391.4L1002.1 1391.3L1003.9 1397.6L1005.8 1402.4L1007.7 1402.5L1009.5 1403.7L1011.2 1405.4L1012.8 1405.6L1014.5 1407.4L1016.4 1409.5L1018.2 1409.9L1020.2 1398.7L1023.2 1406.2L1024.8 1406.1L1026.5 1407.8L1028.1 1407.4L1030.6 1402.4L1032.5 1404.5L1034.3 1407.4L1036 1409.1L1037.7 1408.4L1039.3 1409.9L1041.2 1410.6L1043 1409.9L1044.7 1409.7L1046.3 1412.5L1048 1412.4L1049.6 1411.1L1051.3 1412.3L1053 1411.1L1054.8 1413.5L1056.7 1417.3L1058.5 1419.9L1060.4 1421L1062.3 1418.3L1064.1 1417.3L1066 1416.4L1067.8 1414.8L1069.7 1411.2L1071.6 1408.6L1074.8 1422.3L1077.3 1407.4L1079 1417.3L1081.1 1422.3L1083 1418L1084.8 1412.4L1086.5 1416.4L1088.1 1423L1089.8 1427.2L1091.6 1421.6L1093.5 1417.3L1096 1419.8L1098.5 1404.9L1100.9 1400L1103.4 1370.2L1105.9 1340.4L1108.4 1333L1110.9 1345.4L1112.1 1367.7L1114.6 1340.4L1117.6 1320.5L1120.8 1270.9L1123.3 1221.3L1125.8 1159.3L1129.8 1036.8L1132.6 1008.9L1134.8 997.7L1137.2 1018.2L1139.1 1064.7L1141 1120.5L1141.9 1160L1144.4 1233.7L1148.1 1275.9L1151.3 1295.7L1155.5 1283.3L1158 1246.1L1159.3 1233.7L1161.7 1159.3L1163.3 1046.1L1166.1 953.1L1168.9 910.2L1170.2 928.9L1172.6 934.4L1173.9 990.3L1176.3 1018.2L1178.2 1064.7L1181 1120.5L1184.1 1208.9L1187.8 1251.1L1191.5 1278.4L1195.2 1288.3L1197.7 1261L1200.2 1253.5L1201.9 1263.5L1203.9 1208.9L1206.4 1154.3L1210.1 1117.1L1212.6 1134.4L1215.1 1159.3L1218.8 1176.6L1221.3 1201.4L1225 1228.7L1228.7 1258.5L1231.2 1283.3L1233.7 1290.8L1237.4 1313.1L1239.9 1295.7L1242.4 1208.9L1244.9 1109.6L1245.6 1053.8L1246.6 1109.6L1248.6 1159.3L1251.1 1228.7L1254.8 1236.2L1257.3 1258.5L1261 1283.3L1266 1303.2L1270.9 1315.6L1275.9 1323L1280.8 1326.7L1290.8 1326.7L1298.2 1330.5L1305.7 1334.2L1313.1 1336.7L1319.3 1339.2L1320.9 1339.6L1323.1 1331.2L1324.8 1306.1L1326.3 1264.2L1327.6 1230.7L1329.3 1219L1331 1230.7L1332.7 1250.8L1334 1260.9L1335.2 1230.7L1336.2 1200.6L1337.2 1189.7L1338.2 1200.6L1339.4 1222.4L1340.7 1247.5L1342.2 1269.3L1344.4 1289.4L1347.7 1304.4L1351.9 1317.8L1356.9 1327.9L1361.1 1335.4L1363.6 1336.3L1365.7 1327.9L1367 1311.1L1368.3 1296.1L1369.8 1293.6L1371.4 1297.7L1372.9 1314.5L1374.5 1331.2L1376.7 1343L1379.6 1350L1382.7 1353.9L1388.4 1356.7L1394.1 1353.9L1400.5 1361.4L1407.2 1368.1L1413.6 1372.3L1416.4 1364.7L1418.1 1331.2L1419.3 1264.2L1420.6 1197.2L1421.8 1147L1422.8 1136.9L1423.9 1163.7L1424.8 1214L1425.6 1255.9L1426.8 1247.5L1428.1 1230.7L1429.8 1214L1431 1205.6L1432.3 1222.4L1433.7 1255.9L1435.2 1289.4L1437 1314.5L1439.4 1331.2L1442.4 1343L1445.7 1343.8L1450.7 1348L1456.9 1352.3L1465.5 1359.5L1474 1365.2L1482.6 1370.9L1491.1 1373.8L1499.7 1375.1L1503.2 1370.9L1505.2 1356.4L1506.9 1322.9L1508.2 1281L1509.4 1247.5L1510.7 1234.1L1512.4 1231.6L1514.1 1239.1L1515.7 1255.9L1517.7 1264.2L1520.3 1281L1522.8 1296.1L1524.4 1299.4L1526.1 1289.4L1527.3 1297.7L1528.1 1321.2L1531.1 1326.2L1534.5 1331.2L1536.2 1337.9L1537.8 1348L1541 1355.2L1544.7 1356.7L1546.7 1342.5L1548.2 1314.5L1549.6 1281L1550.9 1255.9L1552.1 1249.2L1553.3 1255.9L1554.3 1272.6L1554.9 1294.4"/>
<path stroke="#e30010" stroke-width="2.75" d="M204.7 1420.5L207.4 1457.8L209.3 1459.7L211.2 1465.2L214.9 1416.8L217.7 1457.8L219.5 1465.2L222.3 1401.9L225.1 1457.8L227 1465.2L229.8 1327.5L231.6 1465.2L234.4 1292.1L237.2 1346.1L239.1 1374L241.9 1411.2L244.7 1305.2L247.5 1390.8L249.3 1334.9L252.1 1387L254 1288.4L256.8 1407.5L259.2 1264.2L261.4 1290.3L264.2 1318.2L266.1 1262.4L268.9 1390.8L270.7 1243.7L273.5 1290.3L276.3 1301.4L279.1 1236.3L281.9 1299.6L284.7 1219.6L287.5 1241.9L291.2 1260.5L293.1 1263.6L294.9 1262.4L296.8 1180.5L299.6 1221.4L302.4 1187.9L304.6 1173L307 1206.5L308.9 1205.2L310.7 1208.4L313.5 1180.5L316.3 1193.5L319.1 1160L321 1204.7L323.8 1171.2L325.6 1177.4L327.5 1178.6L329.3 1173.9"/>
<path stroke="#e30010" d="M204.7 1420.5L207.4 1457.8L209.3 1459.7L211.2 1465.2L214.9 1416.8L217.7 1457.8L219.5 1465.2L222.3 1401.9L225.1 1457.8L227 1465.2L229.8 1327.5L231.6 1465.2L234.4 1292.1L237.2 1346.1L239.1 1374L241.9 1411.2L244.7 1305.2L247.5 1390.8L249.3 1334.9L252.1 1387L254 1288.4L256.8 1407.5L259.2 1264.2L261.4 1290.3L264.2 1318.2L266.1 1262.4L268.9 1390.8L270.7 1243.7L273.5 1290.3L276.3 1301.4L279.1 1236.3L281.9 1299.6L284.7 1219.6L287.5 1241.9L291.2 1260.5L293.1 1263.6L294.9 1262.4L296.8 1180.5L299.6 1221.4L302.4 1187.9L304.6 1173L307 1206.5L308.9 1205.2L310.7 1208.4L313.5 1180.5L316.3 1193.5L319.1 1160L321 1204.7L323.8 1171.2L325.6 1177.4L327.5 1178.6L329.3 1173.9L331.1 1174.8L332.9 1168L334.7 1167.1L338.5 1152.2L343.4 1129.9L348.4 1152.2L352.1 1137.3L353.8 1134.9L355.4 1124.9L357.1 1122.4L358.9 1118.3L360.8 1110L365 1127.4L368.2 1100.1L370.1 1095.4L372 1092.7L374.4 1112.5L376.3 1107.4L378.2 1100.1L381.9 1115L384.4 1092.7L388.1 1110L391.8 1090.2L395.5 1115L399.3 1082.7L400.9 1084.6L402.6 1091.2L404.2 1092.7L409.2 1075.3L411 1078L412.9 1082.7L417.9 1065.4L422.8 1048L426.6 1065.4L429 1045.5L432.8 1064.1L434.6 1061.5L436.5 1055.4L440.9 1035.6L443.9 1045.5L445.8 1040L447.6 1038.1L449.5 1037.5L451.4 1033.1L455.1 1015.7L458.8 953.7L462.5 891.7L466.3 842L469.2 822.2L470.8 823.2L472.5 825.9L474.9 849.5L477.4 859.4L479.2 896.6L480.8 902L482.4 906.6L484.9 928.9L486.6 931.4L488.6 953.7L490.4 959.4L492.3 966.1L494.2 969.9L496 972.3L499.8 986L501.6 984.7L503.5 984.7L505.3 982.6L507.2 978.5L509.1 975.6L510.9 974.8L512.8 978.8L514.6 981L516.5 980.5L518.4 982.2L520.2 978L522.1 972.3L523.9 975.6L525.8 981L527.7 988L529.5 993.4L531.4 989L533.3 986L535.1 989.6L537 990.9L538.8 984.9L540.7 981L542.6 981.6L544.4 979.8L546.3 975.7L548.1 973.5L550 976.1L551.9 976L553.7 978L555.6 981L557.4 984.1L559.3 986L561.2 986.4L563 988.4L564.9 986.7L566.7 983.5L568.6 979.3L570.5 976L572.3 972.4L574.2 967.3L576.1 963.1L577.9 961.1L579.8 960.3L581.6 957.4L583.5 955.7L585.4 956.2L587.2 960.5L589.1 963.6L590.9 963.7L592.8 966.1L594.7 972.1L596.5 976L598.2 977.5L599.8 980.8L601.5 981.1L603.2 984.1L604.8 985.6L606.5 985.1L608.1 987.2L609.8 986.8L611.4 985.1L613.1 986L614.7 984.4L616.4 984.3L618 986L619.7 985.6L621.4 988.9L623 993.5L624.7 996.8L626.3 998.8L628 1002.4L629.6 1004.2L634.6 1021.6L636.2 1022.8L637.9 1026.3L639.6 1027.8L641.2 1026.6L642.9 1027.3L644.5 1026.6L646.4 1023.3L648.2 1021.6L649.9 1023.1L651.5 1022.9L653.2 1024.1L654.8 1026.1L656.3 1026.8L657.9 1029.3L659.4 1030.3L661.1 1032.3L662.7 1035.8L664.4 1037.7L666 1039.3L667.7 1042.8L669.3 1043.9L671 1048.3L672.6 1054.4L674.3 1058.8L679.3 1076.2L684.2 1093.5L686.1 1096.2L687.9 1099.8L689.6 1098.9L691.2 1096.5L692.9 1096L694.6 1093.3L696.2 1088.6L697.9 1086.1L702.8 1068.7L704.5 1066.2L706.1 1062.3L707.8 1060L709.3 1060.6L710.9 1059L712.4 1060L714 1058.8L715.6 1059.5L717.3 1062.6L719 1063.8L720.6 1064.5L722.3 1067.6L723.9 1068.7L725.6 1069.2L727.2 1072L728.9 1072.5L730.5 1071.4L732.2 1072.1L733.8 1071.2L735.7 1068.5L737.6 1067.5L739.2 1069.9L740.9 1070.2L742.5 1072.5L744.2 1074.4L745.8 1074.4L747.5 1076.2L752.5 1093.5L754.1 1098.9L755.8 1102.6L757.4 1108.4L759 1111.4L760.5 1112.9L762.1 1116.5L763.6 1118.4L765.3 1120.8L766.9 1125.5L768.6 1128.3L770.2 1130.7L771.9 1134.7L773.5 1137L775.2 1137.4L776.9 1140.2L778.5 1140.7L780.2 1140.7L781.8 1142.3L783.5 1141.9L785.1 1144.3L786.8 1148.2L788.4 1150.6L790.1 1154.3L791.7 1159.4L793.4 1163L795.1 1168L796.7 1174.2L798.4 1179.2L800.2 1175.4L802.1 1173L804.6 1153.1L807 1173L808.5 1233.7L810.3 1308.1L812.8 1340.4L814.7 1283.3L816.5 1233.7L818.5 1246.1L820.4 1283.3L822.2 1308.1L824.2 1270.9L825.9 1241.1L828.4 1221.3L830.9 1194L832.9 1186.6L835.8 1201.4L839.6 1218.8L841.4 1225.4L843.3 1231.2L844.9 1227.3L846.6 1225.5L848.2 1221.3L849.9 1218.2L851.5 1216.8L853.2 1213.8L855.1 1206.9L856.9 1201.4L859.4 1199L861.1 1196.8L862.7 1193.2L864.4 1191.5L868.1 1171.7L869.7 1168.1L871.4 1162.6L873.1 1159.3L877.3 1134.4L880.5 1151.8L883 1109.6L885.5 1079.9L889.2 1065L889.2 1047.8L889.3 1045.4L890.4 1000.7L892.9 995.7L894.1 908.9L895.4 781.8L897.5 782.2L899.6 781.8L900.8 908.9L901.6 1018.1L903.6 1020.5L904.1 1057.8L905.3 1107.4L907.8 1159.3L909 1171.7L911.5 1176.6L914 1208.9L915.9 1213.9L917.7 1220L919.6 1217.3L921.4 1213.8L923.3 1214.8L925.2 1217.6L927 1212.6L928.9 1206.4L930.7 1207L932.6 1208.9L934.5 1205.5L936.3 1201.4L938.2 1194.9L940 1189L942.5 1160L945 1082.6L947.5 1020.5L950 970.9L951.7 1008.1L953.2 1057.8L955.7 1030.5L957.4 1065.2L959.2 1047.8L961.1 1082.6L963.6 1119.8L967.3 1166.9L969.8 1147.1L971.6 1144.6L973.5 1082.6L974.8 1046.6L976.5 1082.6L978.5 1132.2L979.8 1171.7L982.2 1176.6L984 1233.7L986 1256L987.9 1246.1L989.7 1270.9L993.4 1288.3L997.1 1313.1L999 1315.1L1000.8 1315.6L1004.6 1330.5L1006.4 1331.1L1008.3 1333L1009.9 1336L1011.6 1337.3L1013.3 1340.4L1015.1 1345.6L1017 1349.1L1019.5 1340.4L1021.3 1343.7L1023.2 1347.8L1024.8 1349.5L1026.5 1348.7L1028.1 1350.3L1030 1350.4L1031.9 1349.1L1033.5 1352L1035.2 1357.3L1036.8 1360.2L1038.7 1357.9L1040.5 1356.5L1042.2 1359.4L1043.9 1360.1L1045.5 1362.7L1047.2 1365.1L1048.8 1365.2L1050.5 1367.7L1052.1 1369.3L1053.8 1369.4L1055.4 1371.4L1059.2 1385.1L1061 1381.8L1062.9 1377.6L1064.7 1374.7L1066.6 1372.7L1068.5 1371.7L1070.3 1368.9L1074 1385.1L1076.5 1372.7L1078 1376L1079.6 1381.7L1081.1 1385.1L1083 1381.9L1084.8 1380.1L1086.7 1386.8L1088.5 1392.5L1091 1398.7L1092.9 1393.6L1094.7 1390L1096.6 1389.4L1098.5 1387.5L1100.9 1370.2L1103.4 1345.4L1105.2 1308.1L1107.6 1290.8L1109.6 1308.1L1112.1 1337.9L1114.6 1320.5L1117.1 1295.7L1119.6 1258.5L1122 1208.9L1124.5 1159.3L1127 1097.2L1129.8 1038.7L1132.6 1030.3L1135 1028.4L1137.2 1033.1L1139.1 1064.7L1141 1120.5L1142.3 1160L1145.6 1208.9L1148.1 1246.1L1151.3 1270.9L1154.3 1253.5L1157.3 1231.2L1159.3 1208.9L1161.7 1134.4L1162.4 1046.1L1165.1 981L1168.3 954.9L1170.7 990.3L1173.5 1027.5L1176.3 1074L1179.1 1111.2L1181.6 1146.8L1185.3 1184.1L1189 1213.8L1192.8 1236.2L1196 1248.6L1198.5 1221.3L1200.9 1233.7L1202.7 1208.9L1206.1 1101.9L1208.9 1046.1L1210.4 1043.3L1213.5 1055.4L1216.3 1090.8L1218.2 1092.2L1220 1094.5L1222.8 1129.9L1225.6 1154L1228.7 1196.5L1232.5 1233.7L1236.2 1258.5L1238.7 1268.4L1241.1 1233.7L1242.4 1083.3L1244.8 1013.5L1247 1083.3L1249.8 1129.9L1252.3 1164.2L1254.2 1167.1L1256 1169.2L1258.5 1199L1261 1221.3L1266 1248.6L1270.9 1266L1272.6 1269.9L1274.2 1274.5L1275.9 1278.4L1277.5 1280.2L1279.2 1282.8L1280.8 1284.6L1282.7 1285.2L1284.6 1286.7L1286.4 1287L1288.3 1288.3L1290.1 1289.8L1292 1290.4L1293.9 1292.2L1295.7 1293.3L1297.6 1294.5L1299.5 1296.7L1301.3 1297.8L1303.2 1299.5L1305 1300.9L1306.9 1301.8L1308.8 1303.3L1310.6 1304.4L1312.2 1305.6L1313.7 1307.7L1315.3 1308.7L1316.9 1310.7L1318.4 1312L1320.9 1312L1323.4 1302.8L1325.1 1281L1326.5 1230.7L1327.6 1188.9L1329.3 1169.6L1331 1180.5L1332.7 1200.6L1334 1212.3L1335.2 1180.5L1336.3 1147L1337.2 1130.2L1338.2 1147L1339.4 1180.5L1340.5 1214L1341.9 1239.1L1343.9 1255.9L1346.9 1269.3L1350.2 1281L1354.4 1291L1358.6 1299.4L1362 1304.4L1364.5 1302.8L1366.2 1281L1367.5 1255.9L1368.7 1237.4L1369.8 1233.3L1371.2 1239.1L1372.4 1255.9L1373.7 1277.6L1375.4 1297.7L1377.9 1311.1L1381.2 1321.2L1385.4 1327.1L1389.6 1327.1L1393.8 1325.4L1397.1 1327.9L1402.2 1334.6L1407.2 1341.3L1412.2 1347.2L1415.2 1344.6L1416.9 1322.9L1418.3 1264.2L1419.4 1197.2L1420.6 1130.2L1421.8 1080L1422.8 1052.9L1423.8 1080L1424.8 1130.2L1426 1197.2L1427 1247.5L1427.8 1271.8L1429 1247.5L1430 1197.2L1431 1170.4L1432.3 1188.9L1433.5 1222.4L1434.8 1255.9L1436.5 1281L1438.7 1301.1L1441.5 1314.5L1445.7 1324.5L1450.7 1331.2L1457.4 1337.9L1464.1 1344.6L1470.8 1348L1477.5 1350.5L1484.2 1352.3L1486.8 1352.3L1487.9 1345.5L1489.3 1353L1494.3 1354.7L1500.2 1354.7L1503 1348L1505 1322.9L1506.7 1281L1508.4 1230.7L1510 1193.9L1511.9 1179.7L1513.6 1193.9L1515.2 1230.7L1516.9 1264.2L1519.1 1297.7L1521.4 1322.9L1524.1 1336.3L1527 1341.3L1529.8 1342.1L1532 1350.5L1535.3 1352.2L1538.7 1346.3L1541.2 1348L1543.7 1343L1545.7 1337.9L1547.2 1314.5L1548.7 1281L1550.2 1244.1L1551.6 1224L1552.9 1219L1554.1 1230.7L1555.1 1255.9L1555.8 1272.6"/>
<rect x="896.3" y="782.5" width="2.4" height="210" fill="#e30010" fill-opacity="0.3" stroke="none"/>
</g>
</g>
</g>
</svg>
</body>
</html>
